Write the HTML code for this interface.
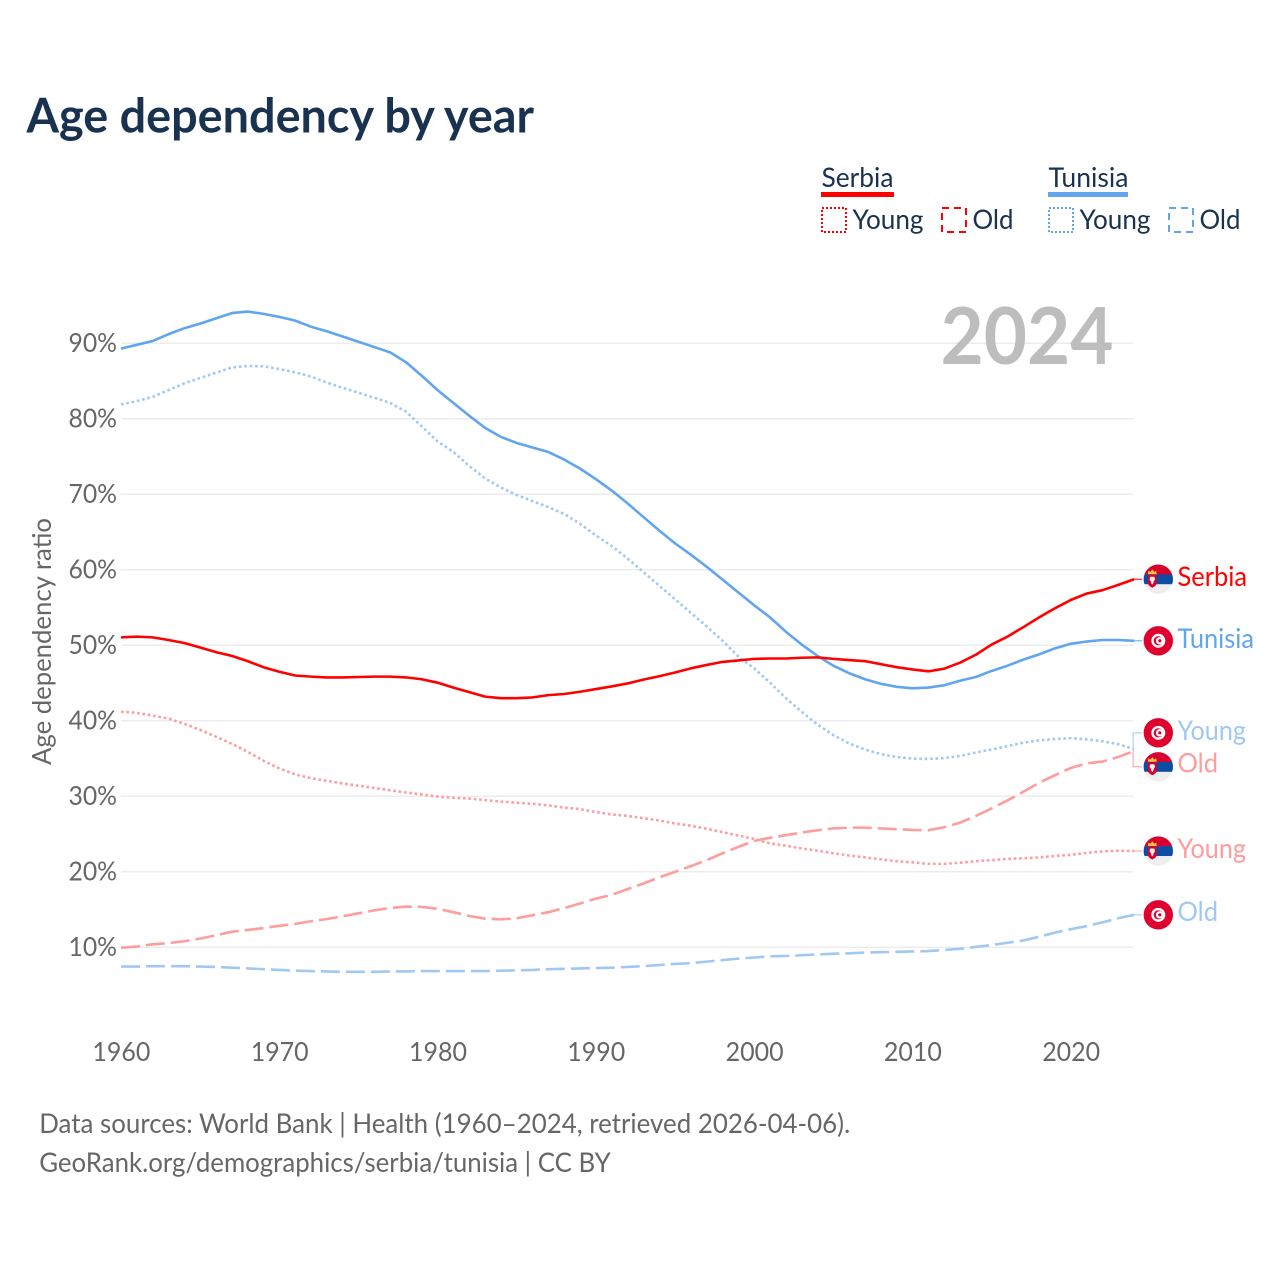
<!DOCTYPE html>
<html lang="en">
<head>
<meta charset="utf-8">
<title>Age dependency by year</title>
<style>
html,body{margin:0;padding:0;background:#fff;}
svg{display:block;}
text{font-family:"Lato","Carlito","Liberation Sans",sans-serif;}
</style>
</head>
<body>
<svg id="chart" xmlns="http://www.w3.org/2000/svg" width="1280" height="1280" viewBox="0 0 1280 1280">
  <defs>
    <clipPath id="flag-clip"><circle cx="0" cy="0" r="14.7"/></clipPath>
    <g id="flag-serbia">
      <g clip-path="url(#flag-clip)">
        <rect x="-15" y="-15" width="30" height="10.4" fill="#d8002f"/>
        <rect x="-15" y="-4.8" width="30" height="10" fill="#0b4ea2"/>
        <rect x="-15" y="5" width="30" height="10" fill="#eeeeee"/>
        <path d="M-10.5 -4.5h9v8q0 3 -4.5 5q-4.500 -2 -4.500 -5z" fill="#d8002f"/>
        <path d="M-10.5 -5l.6 -3.500l2 1.200l1.900 -2.400l1.900 2.400l2 -1.200l.6 3.500z" fill="#f6c93c"/>
        <path d="M-8 -2.500h4l.8 2.500l-1.300 2l-.7 2.500l-.8 .8l-.8 -.8l-.7 -2.500l-1.300 -2z" fill="#f4efe6"/>
      </g>
    </g>
    <g id="flag-tunisia">
      <g clip-path="url(#flag-clip)">
        <rect x="-15" y="-15" width="30" height="30" fill="#e0002d"/>
        <circle cx="0" cy="0" r="7" fill="#ffffff"/>
        <circle cx="0" cy="0" r="4.6" fill="#e0002d"/>
        <circle cx="1.3" cy="0" r="3.7" fill="#ffffff"/>
        <circle cx="1.5" cy="0" r="1.6" fill="#e0002d"/>
      </g>
    </g>
  </defs>

  <rect x="0" y="0" width="1280" height="1280" fill="#ffffff"/>
  <text x="26.5" y="132.5" font-size="48" font-weight="700" fill="#18324f" textLength="507.5" lengthAdjust="spacingAndGlyphs">Age dependency by year</text>

  <g>
    <text x="821.5" y="187" font-size="27" fill="#18324f" textLength="72" lengthAdjust="spacingAndGlyphs">Serbia</text>
    <rect x="821" y="192" width="73" height="5" fill="#ff0000"/>
    <text x="1048.5" y="187" font-size="27" fill="#18324f" textLength="80" lengthAdjust="spacingAndGlyphs">Tunisia</text>
    <rect x="1048" y="192" width="80" height="5" fill="#60a5ee"/>

    <rect x="822" y="208" width="24" height="24" fill="none" stroke="#ff0000" stroke-width="2" stroke-dasharray="2 2"/>
    <text x="852.5" y="229" font-size="27" fill="#18324f" textLength="71" lengthAdjust="spacingAndGlyphs">Young</text>
    <rect x="942" y="208" width="24" height="24" fill="none" stroke="#ff0000" stroke-width="2" stroke-dasharray="7 5"/>
    <text x="972.5" y="229" font-size="27" fill="#18324f" textLength="41" lengthAdjust="spacingAndGlyphs">Old</text>

    <rect x="1049" y="208" width="24" height="24" fill="none" stroke="#60a5ee" stroke-width="2" stroke-dasharray="2 2"/>
    <text x="1079.5" y="229" font-size="27" fill="#18324f" textLength="71" lengthAdjust="spacingAndGlyphs">Young</text>
    <rect x="1169" y="208" width="24" height="24" fill="none" stroke="#60a5ee" stroke-width="2" stroke-dasharray="7 5"/>
    <text x="1199.5" y="229" font-size="27" fill="#18324f" textLength="41" lengthAdjust="spacingAndGlyphs">Old</text>
  </g>

  <g id="grid"></g>
  <g id="y-ticks"></g>
  <g id="x-ticks"></g>
  <text x="940.5" y="364" font-size="79" font-weight="700" fill="#bdbdbd" textLength="173" lengthAdjust="spacingAndGlyphs">2024</text>
  <text transform="translate(51,765) rotate(-90)" x="0" y="0" font-size="26" fill="#666666" textLength="247" lengthAdjust="spacingAndGlyphs">Age dependency ratio</text>
  <g id="lines"></g>
  <g id="ends"></g>

  <text x="39.2" y="1133" font-size="27" fill="#666666" textLength="811" lengthAdjust="spacingAndGlyphs">Data sources: World Bank | Health (1960–2024, retrieved 2026-04-06).</text>
  <text x="39.2" y="1172" font-size="27" fill="#666666" textLength="571.500" lengthAdjust="spacingAndGlyphs">GeoRank.org/demographics/serbia/tunisia | CC BY</text>
</svg>
<script>
var firstYear = 1960;
var xTickYears = [1960, 1970, 1980, 1990, 2000, 2010, 2020];
var yTickValues = [10, 20, 30, 40, 50, 60, 70, 80, 90];

var serbiaTotal = [51.05,51.15,51.05,50.7,50.3,49.7,49.1,48.6,47.9,47.1,
  46.5,46.0,45.85,45.75,45.75,45.8,45.85,45.85,45.75,45.5,
  45.05,44.4,43.8,43.2,43.0,43.0,43.1,43.4,43.55,43.85,
  44.2,44.55,44.95,45.45,45.9,46.4,46.95,47.4,47.8,48.0,
  48.2,48.25,48.25,48.35,48.4,48.2,48.05,47.9,47.5,47.1,
  46.8,46.55,46.9,47.7,48.75,50.1,51.15,52.4,53.7,54.9,
  56.0,56.85,57.3,58.0,58.75];
var serbiaYoung = [41.2,41.05,40.7,40.3,39.6,38.8,37.9,36.95,35.9,34.7,
  33.7,32.9,32.4,32.05,31.7,31.4,31.1,30.8,30.5,30.25,
  29.95,29.8,29.7,29.5,29.3,29.15,29.0,28.8,28.5,28.3,
  27.9,27.6,27.4,27.1,26.8,26.4,26.1,25.7,25.25,24.8,
  24.35,23.75,23.45,23.1,22.8,22.45,22.15,21.9,21.65,21.4,
  21.25,21.05,21.05,21.2,21.4,21.55,21.7,21.8,21.9,22.1,
  22.25,22.5,22.7,22.8,22.75];
var serbiaOld = [9.95,10.1,10.4,10.55,10.8,11.15,11.6,12.05,12.3,12.55,
  12.85,13.1,13.45,13.75,14.1,14.5,14.9,15.2,15.4,15.35,
  15.1,14.65,14.15,13.8,13.7,13.85,14.25,14.65,15.2,15.8,
  16.45,16.95,17.7,18.45,19.25,20.0,20.75,21.55,22.45,23.3,
  24.1,24.5,24.85,25.2,25.5,25.75,25.85,25.85,25.75,25.65,
  25.55,25.5,25.9,26.5,27.4,28.4,29.45,30.6,31.8,32.8,
  33.75,34.35,34.6,35.2,36.0];
var tunisiaTotal = [89.3,89.8,90.3,91.2,92.0,92.6,93.3,94.0,94.2,93.9,
  93.5,93.0,92.2,91.6,90.9,90.2,89.5,88.8,87.5,85.7,
  83.8,82.1,80.4,78.8,77.6,76.8,76.2,75.6,74.6,73.4,
  72.0,70.5,68.8,67.0,65.2,63.5,62.0,60.4,58.7,57.0,
  55.3,53.7,51.8,50.1,48.6,47.3,46.3,45.5,44.9,44.5,
  44.3,44.4,44.7,45.3,45.8,46.6,47.3,48.1,48.8,49.6,
  50.2,50.5,50.7,50.7,50.6];
var tunisiaYoung = [81.9,82.35,82.9,83.8,84.7,85.4,86.1,86.8,87.0,86.95,
  86.6,86.15,85.6,84.8,84.1,83.45,82.8,82.1,80.95,79.0,
  77.0,75.6,73.75,72.1,70.9,69.9,69.1,68.3,67.4,66.1,
  64.55,63.15,61.5,59.7,57.9,56.1,54.3,52.5,50.6,48.5,
  46.95,45.05,43.0,41.2,39.5,38.1,37.0,36.2,35.6,35.2,
  35.0,34.95,35.05,35.35,35.8,36.2,36.65,37.1,37.4,37.6,
  37.7,37.55,37.3,36.9,36.25];
var tunisiaOld = [7.45,7.45,7.5,7.5,7.5,7.45,7.4,7.3,7.2,7.1,
  7.0,6.9,6.85,6.8,6.75,6.75,6.75,6.8,6.8,6.85,
  6.85,6.85,6.85,6.85,6.9,6.95,7.0,7.1,7.15,7.2,
  7.25,7.3,7.4,7.5,7.65,7.8,7.9,8.1,8.3,8.5,
  8.65,8.8,8.85,8.95,9.05,9.15,9.2,9.3,9.35,9.4,
  9.45,9.5,9.65,9.8,10.05,10.3,10.6,10.9,11.4,11.95,
  12.4,12.8,13.3,13.85,14.3];

var SVGNS = 'http://www.w3.org/2000/svg';
function xScale(year) { return 121 + (year - firstYear) * 15.83; }
function yScale(value) { return 1022.8 - value * 7.55; }
function make(tag, parent) {
  var el = document.createElementNS(SVGNS, tag);
  parent.appendChild(el);
  return el;
}

var gridLayer = document.getElementById('grid');
var yTickLayer = document.getElementById('y-ticks');
yTickValues.forEach(function (v) {
  var ln = make('line', gridLayer);
  
  
  ln.setAttribute('x1', xScale(firstYear));
  ln.setAttribute('x2', xScale(2024) - 1);
  ln.setAttribute('y1', yScale(v));
  ln.setAttribute('y2', yScale(v));
  ln.setAttribute('stroke', '#ececec');
  ln.setAttribute('stroke-width', '1.5');
  var t = make('text', yTickLayer);
  
  
  t.setAttribute('x', 68.5);
  t.setAttribute('y', yScale(v) + 8.6);
  t.setAttribute('font-size', '26');
  t.setAttribute('fill', '#666666');
  t.setAttribute('textLength', '48.5');
  t.setAttribute('lengthAdjust', 'spacingAndGlyphs');
  t.textContent = v + '%';
});

var xTickLayer = document.getElementById('x-ticks');
xTickYears.forEach(function (yr) {
  var t = make('text', xTickLayer);
  
  
  t.setAttribute('x', xScale(yr) - 28.6);
  t.setAttribute('y', 1061);
  t.setAttribute('font-size', '26');
  t.setAttribute('fill', '#666666');
  t.setAttribute('textLength', '58');
  t.setAttribute('lengthAdjust', 'spacingAndGlyphs');
  t.textContent = String(yr);
});

function pathFrom(values) {
  return values.map(function (v, i) {
    return (i ? 'L' : 'M') + xScale(firstYear + i).toFixed(2) + ' ' + yScale(v).toFixed(2);
  }).join('');
}

var lineLayer = document.getElementById('lines');
var endLayer = document.getElementById('ends');

function drawLine(name, values, color, dash, width) {
  var p = make('path', lineLayer);
  
  
  p.setAttribute('d', pathFrom(values));
  p.setAttribute('fill', 'none');
  p.setAttribute('stroke', color);
  p.setAttribute('stroke-width', width);
  p.setAttribute('stroke-linejoin', 'round');
  if (dash) p.setAttribute('stroke-dasharray', dash);
}

function drawEnd(name, label, values, color, flag, shift, labelWidth, baselineOffset) {
  var last = values[values.length - 1];
  var yEnd = yScale(last);
  var yLabel = yEnd + shift;
  var xEnd = xScale(2024);
  var conn = make('path', endLayer);
  
  
  conn.setAttribute('d', 'M' + xEnd + ' ' + yEnd + (shift ? 'L' + (xEnd - 1) + ' ' + yEnd + 'L' + (xEnd - 1) + ' ' + yLabel : '') + 'L' + (xEnd + 8) + ' ' + yLabel);
  conn.setAttribute('fill', 'none');
  conn.setAttribute('stroke', color);
  conn.setAttribute('stroke-width', '1');
  var f = make('use', endLayer);
  
  
  f.setAttribute('href', '#' + flag);
  f.setAttribute('transform', 'translate(1158.3,' + yLabel + ')');
  var t = make('text', endLayer);
  
  
  t.setAttribute('x', 1177.5);
  t.setAttribute('y', yLabel + baselineOffset);
  t.setAttribute('font-size', '27');
  t.setAttribute('fill', color);
  t.setAttribute('textLength', labelWidth);
  t.setAttribute('lengthAdjust', 'spacingAndGlyphs');
  t.textContent = label;
}

var redSolid = '#ff0000';
var redLight = '#ff9c9c';
var blueSolid = '#60a5ee';
var blueLight = '#9fc8f3';
var dotted = '2.6 2.8';
var dashed = '19 6';

drawLine('tunisia-old-line', tunisiaOld, blueLight, dashed, 2.6);
drawLine('tunisia-young-line', tunisiaYoung, blueLight, dotted, 2.6);
drawLine('serbia-old-line', serbiaOld, redLight, dashed, 2.6);
drawLine('serbia-young-line', serbiaYoung, redLight, dotted, 2.6);
drawLine('tunisia-total-line', tunisiaTotal, blueSolid, null, 2.6);
drawLine('serbia-total-line', serbiaTotal, redSolid, null, 2.6);

drawEnd('serbia-total', 'Serbia', serbiaTotal, redSolid, 'flag-serbia', 0, 69.5, 6.8);
drawEnd('tunisia-total', 'Tunisia', tunisiaTotal, blueSolid, 'flag-tunisia', 0, 76.5, 7.4);
drawEnd('tunisia-young', 'Young', tunisiaYoung, blueLight, 'flag-tunisia', -16.3, 68.5, 7.4);
drawEnd('serbia-old', 'Old', serbiaOld, redLight, 'flag-serbia', 15.8, 40.5, 5.6);
drawEnd('serbia-young', 'Young', serbiaYoung, redLight, 'flag-serbia', 0, 68.5, 7.2);
drawEnd('tunisia-old', 'Old', tunisiaOld, blueLight, 'flag-tunisia', 0, 40.5, 6);
</script>
</body>
</html>
